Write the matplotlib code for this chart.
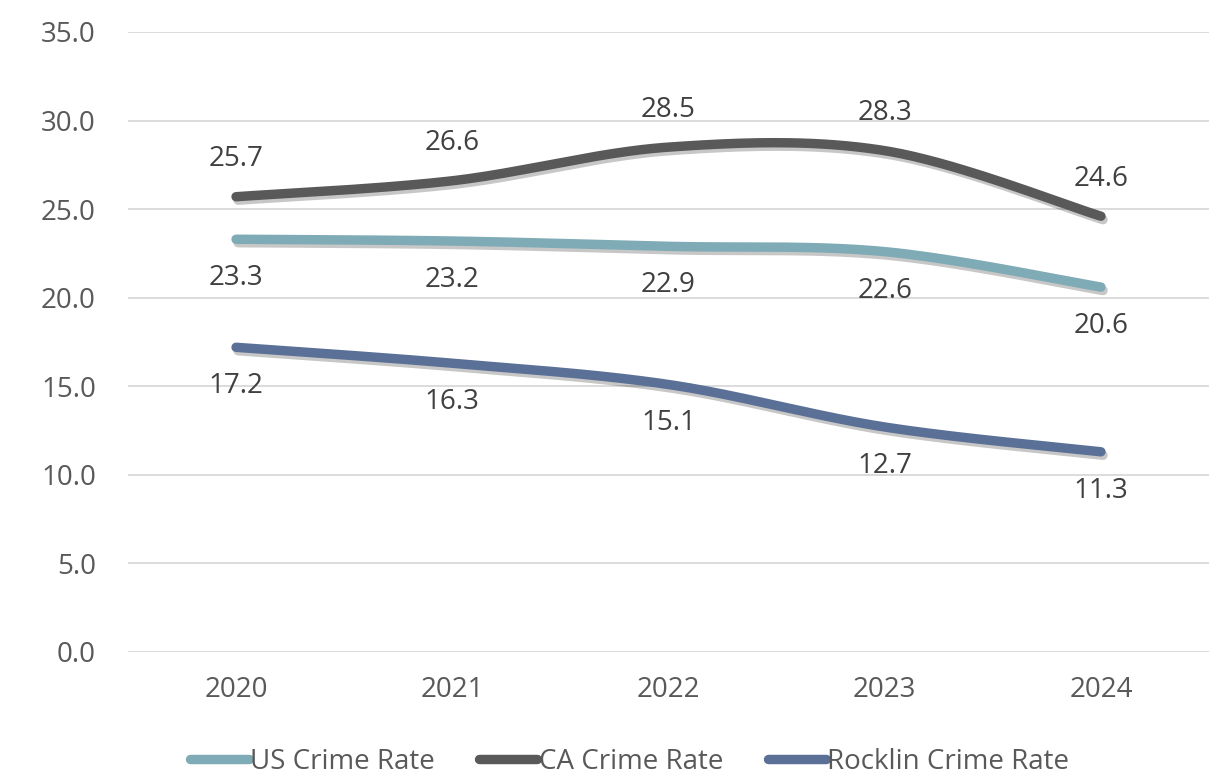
import numpy as np
import matplotlib
matplotlib.use("Agg")
import matplotlib.pyplot as plt
import matplotlib.patheffects as pe
from matplotlib.lines import Line2D

years = ["2020", "2021", "2022", "2023", "2024"]
us_rate = [23.3, 23.2, 22.9, 22.6, 20.6]
ca_rate = [25.7, 26.6, 28.5, 28.3, 24.6]
rocklin_rate = [17.2, 16.3, 15.1, 12.7, 11.3]
series_names = ["US Crime Rate", "CA Crime Rate", "Rocklin Crime Rate"]
y_ticks = [0, 5, 10, 15, 20, 25, 30, 35]

colors = ["#7eabb5", "#595959", "#5b7096"]
label_pos = ["below", "above", "below"]
FONT = ["Open Sans", "DejaVu Sans"]


def smooth(xs, ys, n=40):
    """Excel-like smoothed line through the data points (cubic Bezier, Catmull-Rom tangents)."""
    xs = np.asarray(xs, float)
    ys = np.asarray(ys, float)
    pts = np.column_stack([xs, ys])
    out = []
    for i in range(len(pts) - 1):
        p0 = pts[i - 1] if i > 0 else pts[i]
        p1 = pts[i]
        p2 = pts[i + 1]
        p3 = pts[i + 2] if i + 2 < len(pts) else pts[i + 1]
        c1 = p1 + (p2 - p0) / 6.0
        c2 = p2 - (p3 - p1) / 6.0
        t = np.linspace(0, 1, n)[:, None]
        seg = ((1 - t) ** 3) * p1 + 3 * ((1 - t) ** 2) * t * c1 + 3 * (1 - t) * t ** 2 * c2 + t ** 3 * p2
        out.append(seg if i == 0 else seg[1:])
    s = np.vstack(out)
    return s[:, 0], s[:, 1]


fig = plt.figure(figsize=(12.3, 7.76), dpi=100)
ax = fig.add_axes([0.104, 0.1598, 0.879, 0.799])

x = np.arange(len(years))
for vals, name, col, pos in zip([us_rate, ca_rate, rocklin_rate], series_names, colors, label_pos):
    sx, sy = smooth(x, vals)
    ax.plot(sx, sy, color=col, lw=6.8, solid_capstyle="round", solid_joinstyle="round",
            path_effects=[pe.SimpleLineShadow(offset=(1.5, -2.5), shadow_color="black", alpha=0.22),
                          pe.Normal()], zorder=3)
    for xi, v in zip(x, vals):
        off = 27 if pos == "above" else -28
        ax.annotate(f"{v:.1f}", (xi, v), xytext=(0, off), textcoords="offset points",
                    ha="center", va="center", fontsize=20, color="#404040",
                    family=FONT, zorder=4)

ax.set_xlim(-0.5, len(years) - 0.5)
ax.set_ylim(0, 35)
ax.set_yticks(y_ticks)
ax.set_yticklabels([f"{t:.1f}" for t in y_ticks], family=FONT, fontsize=20, color="#595959")
ax.set_xticks(x)
ax.set_xticklabels(years, family=FONT, fontsize=20, color="#595959")
ax.tick_params(axis="both", length=0)
ax.tick_params(axis="y", pad=23)
ax.tick_params(axis="x", pad=17)
ax.grid(axis="y", color="#d9d9d9", lw=1.3)
ax.set_axisbelow(True)
for s in ax.spines.values():
    s.set_visible(False)

handles = [Line2D([0], [0], color=c, lw=6.8, solid_capstyle="round") for c in colors]
leg = fig.legend(handles, series_names, loc="center", bbox_to_anchor=(0.512, 0.018), ncol=3,
                 frameon=False, handlelength=2.1, handletextpad=0.05, columnspacing=1.6,
                 prop={"family": FONT, "size": 20}, borderpad=0.0)
for t in leg.get_texts():
    t.set_color("#595959")

fig.savefig("out.png", dpi=100)
